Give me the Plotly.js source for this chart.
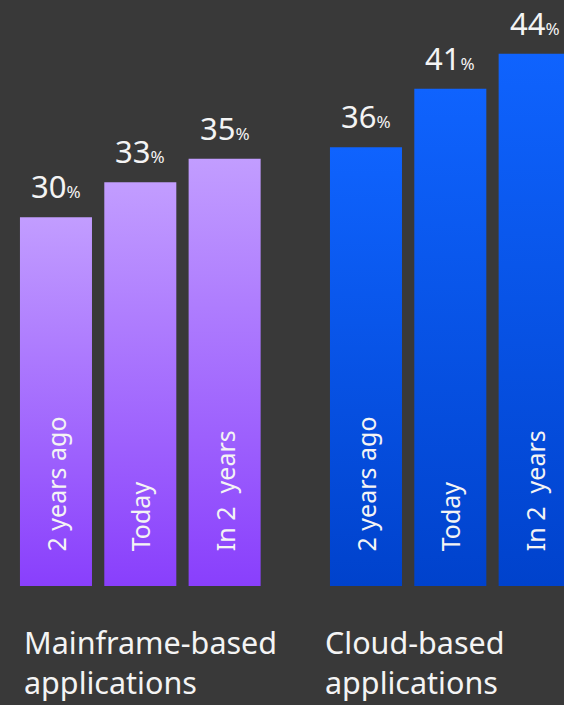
<!DOCTYPE html>
<html>
<head>
<meta charset="utf-8">
<script src="https://cdn.plot.ly/plotly-3.0.1.min.js"></script>
<style>
html,body{margin:0;padding:0;background:#393939;overflow:hidden;}
#chart{width:564px;height:705px;}
</style>
</head>
<body>
<div id="chart"></div>
<script>
// ---- data ----
const periods = ['2 years ago', 'Today', 'In 2\u00a0 years'];
const mainframeValues = [30, 33, 35];
const cloudValues = [36, 41, 44];
const groupLabels = ['Mainframe-based<br>applications', 'Cloud-based<br>applications'];

const FONT = '"Noto Sans", "Open Sans", sans-serif';
const BASE = -1.54;

const traces = [
  {type: 'bar', x: periods, y: mainframeValues.map(v => v - BASE), base: BASE, xaxis: 'x', yaxis: 'y',
   marker: {color: '#a66efe', line: {width: 0}}, hoverinfo: 'none', showlegend: false},
  {type: 'bar', x: periods, y: cloudValues.map(v => v - BASE), base: BASE, xaxis: 'x2', yaxis: 'y',
   marker: {color: '#0a55ea', line: {width: 0}}, hoverinfo: 'none', showlegend: false}
];

const annotations = [];
[[mainframeValues, 'x'], [cloudValues, 'x2']].forEach(([vals, xr]) => {
  vals.forEach((v, i) => {
    annotations.push({
      xref: xr, yref: 'y', x: periods[i], y: v,
      text: v + '<span style="font-size:17px">%</span>',
      showarrow: false, xanchor: 'center', yanchor: 'bottom', yshift: 8,
      font: {family: FONT, size: 31, color: '#f4f4f4'}
    });
    annotations.push({
      xref: xr, yref: 'y', x: periods[i], y: BASE,
      text: periods[i], textangle: -90,
      showarrow: false, xanchor: 'center', yanchor: 'bottom', yshift: 33,
      font: {family: FONT, size: 25, color: '#f4f4f4'}
    });
  });
});
const groupX = [0.039, 0.573];
groupLabels.forEach((g, i) => {
  annotations.push({
    xref: 'paper', yref: 'paper', x: groupX[i], y: 0,
    text: g, align: 'left', showarrow: false,
    xanchor: 'left', yanchor: 'top', yshift: -33,
    font: {family: FONT, size: 30.5, color: '#f4f4f4'}
  });
});

const layout = {
  width: 564, height: 705,
  margin: {l: 0, r: 0, t: 0, b: 119, pad: 0},
  paper_bgcolor: '#393939', plot_bgcolor: '#393939',
  bargap: 0.146,
  xaxis: {domain: [13.8/564, 266.8/564], range: [-0.5, 2.5], showticklabels: false,
          showgrid: false, zeroline: false, showline: false, ticks: '', fixedrange: true},
  xaxis2: {domain: [323.8/564, 1], range: [-0.5, 2.348], showticklabels: false,
           showgrid: false, zeroline: false, showline: false, ticks: '', fixedrange: true},
  yaxis: {range: [BASE, 48.59], showticklabels: false, showgrid: false, zeroline: false,
          showline: false, ticks: '', fixedrange: true},
  annotations: annotations,
  font: {family: FONT, color: '#f4f4f4'}
};

Plotly.newPlot('chart', traces, layout, {displayModeBar: false, staticPlot: true}).then(gd => {
  const svg = gd.querySelector('svg.main-svg');
  const ns = 'http://www.w3.org/2000/svg';
  let defs = svg.querySelector('defs');
  if (!defs) { defs = document.createElementNS(ns, 'defs'); svg.insertBefore(defs, svg.firstChild); }
  function grad(id, top, bottom) {
    const g = document.createElementNS(ns, 'linearGradient');
    g.setAttribute('id', id);
    g.setAttribute('x1', '0'); g.setAttribute('y1', '0');
    g.setAttribute('x2', '0'); g.setAttribute('y2', '1');
    [[0, top], [1, bottom]].forEach(([o, c]) => {
      const s = document.createElementNS(ns, 'stop');
      s.setAttribute('offset', o); s.setAttribute('stop-color', c);
      g.appendChild(s);
    });
    defs.appendChild(g);
  }
  grad('gradPurple', '#c29dff', '#893ffc');
  grad('gradBlue', '#0f63fe', '#0042cc');
  const traceGroups = gd.querySelectorAll('.barlayer .trace');
  const ids = ['gradPurple', 'gradBlue'];
  traceGroups.forEach((tg, i) => {
    tg.querySelectorAll('.point path').forEach(p => { p.style.fill = 'url(#' + ids[i] + ')'; });
  });
});
</script>
</body>
</html>
